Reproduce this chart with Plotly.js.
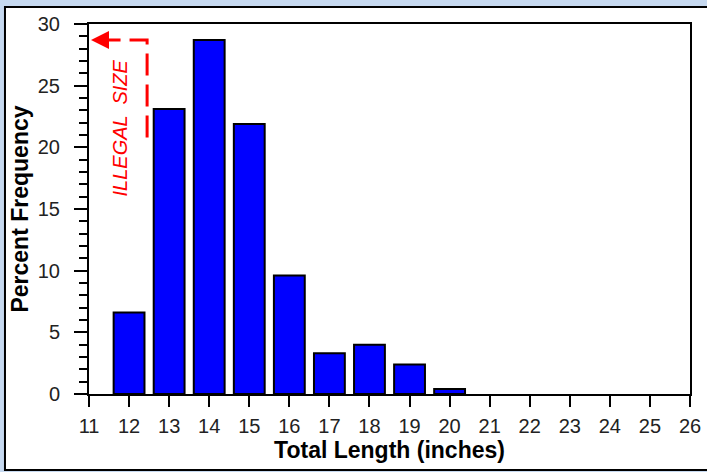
<!DOCTYPE html>
<html>
<head>
<meta charset="utf-8">
<script src="https://cdn.plot.ly/plotly-3.0.1.min.js"></script>
<style>html,body{margin:0;padding:0;background:#c6d9f0;}#chart{width:707px;height:472px;}</style>
</head>
<body>
<div id="chart"></div>
<script>
// Data
var lengths = [12, 13, 14, 15, 16, 17, 18, 19, 20];
var percentFrequency = [6.6, 23.1, 28.7, 21.9, 9.6, 3.3, 4.0, 2.4, 0.4];
var xTickValues = [11, 12, 13, 14, 15, 16, 17, 18, 19, 20, 21, 22, 23, 24, 25, 26];
var legalLimitX = [12.45, 12.45, 11.35];
var legalLimitY = [20.8, 28.7, 28.7];
var legalLabel = 'ILLEGAL  SIZE';

var bars = {
  type: 'bar',
  x: lengths,
  y: percentFrequency,
  width: 0.77,
  marker: {color: '#0000ff', line: {color: '#000000', width: 2}},
  hoverinfo: 'x+y'
};
var limitLine = {
  type: 'scatter',
  mode: 'lines',
  x: legalLimitX,
  y: legalLimitY,
  line: {color: '#ff0000', width: 3, dash: '22px,9px'},
  hoverinfo: 'skip'
};

var layout = {
  width: 707,
  height: 472,
  margin: {l: 89, r: 17, t: 24, b: 78},
  paper_bgcolor: '#c6d9f0',
  plot_bgcolor: '#ffffff',
  showlegend: false,
  font: {family: 'Liberation Sans, Arial, sans-serif', color: '#000000', size: 19},
  xaxis: {
    range: [11, 26],
    tickvals: xTickValues,
    ticktext: xTickValues.map(String),
    ticks: 'outside', ticklen: 11, tickwidth: 2, tickcolor: '#000',
    showline: true, linewidth: 2, linecolor: '#000', mirror: true,
    showgrid: false, zeroline: false,
    tickfont: {size: 20, color: '#222'},
    ticklabelstandoff: 2,
    title: {text: '<b>Total Length (inches)</b>', font: {size: 23, color: '#000'}, standoff: 6}
  },
  yaxis: {
    range: [0, 30],
    dtick: 5,
    ticks: 'outside', ticklen: 13, tickwidth: 2, tickcolor: '#000',
    minor: {dtick: 1, ticks: 'outside', ticklen: 8, tickwidth: 2, tickcolor: '#000', showgrid: false},
    showline: true, linewidth: 2, linecolor: '#000', mirror: true,
    showgrid: false, zeroline: false,
    tickfont: {size: 20, color: '#222'},
    ticklabelstandoff: 10,
    title: {text: '<b>Percent Frequency</b>', font: {size: 23, color: '#000'}, standoff: 3}
  },
  shapes: [{
    type: 'rect', xref: 'paper', yref: 'paper', layer: 'below',
    x0: -0.1398, x1: 1.04, y0: -0.2054, y1: 1.0459,
    fillcolor: '#ffffff', line: {color: '#000000', width: 2}
  }],
  annotations: [
    {
      x: 11.05, y: 28.7, xref: 'x', yref: 'y',
      ax: 11.5, ay: 28.7, axref: 'x', ayref: 'y',
      showarrow: true, arrowhead: 2, arrowsize: 1.2, arrowwidth: 3, arrowcolor: '#ff0000', text: ''
    },
    {
      x: 11.77, y: 21.6, xref: 'x', yref: 'y',
      text: '<i>' + legalLabel + '</i>', showarrow: false, textangle: -90,
      font: {size: 20, color: '#ff0000'}
    }
  ]
};

Plotly.newPlot('chart', [bars, limitLine], layout, {displayModeBar: false, staticPlot: true});
</script>
</body>
</html>
